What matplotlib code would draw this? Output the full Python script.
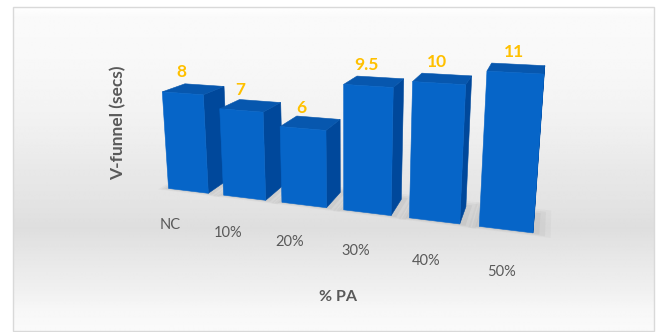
import numpy as np
import matplotlib
matplotlib.use("Agg")
import matplotlib.pyplot as plt
from matplotlib.patches import Polygon, Rectangle

# ---- data ----
categories = ['NC', '10%', '20%', '30%', '40%', '50%']
values = [8, 7, 6, 9.5, 10, 11]
y_title = 'V-funnel (secs)'
x_title = '% PA'

# ---- faux 3D camera (layout) ----
W, H = 659, 332
F = 650.0
PP = np.array([346.0, 102.0])
alpha = np.radians(17.5)
beta = np.radians(13.0)
EX = np.array([np.cos(alpha), np.sin(alpha) * np.sin(beta), -np.sin(alpha) * np.cos(beta)])
EY = np.array([0.0, -np.cos(beta), -np.sin(beta)])
EZ = np.array([np.sin(alpha), -np.cos(alpha) * np.sin(beta), np.cos(alpha) * np.cos(beta)])
T0 = np.array([-2.73, 1.33, 10.0])
GAP = 0.943      # slot width
BW = 0.686       # bar width
DZ = 0.634       # bar depth
KV = 0.190       # world height per value unit


def proj(x, y, z):
    c = T0 + x * EX + y * EY + z * EZ
    return PP[0] + F * c[0] / c[2], PP[1] + F * c[1] / c[2]


def poly(pts):
    return [proj(*p) for p in pts]


fig = plt.figure(figsize=(W / 100, H / 100), dpi=100)
ax = fig.add_axes([0, 0, 1, 1])
ax.set_xlim(0, W)
ax.set_ylim(H, 0)
ax.axis('off')

# background gradient inside frame
fx0, fx1, fy0, fy1 = 13, 654, 7, 331
stops_y = [7, 17, 60, 100, 140, 170, 200, 228, 240, 260, 290, 310, 331]
stops_g = [255, 250, 248, 244, 238, 232, 228, 222, 226, 232, 240, 247, 250]
ys = np.arange(fy0, fy1 + 1)
gv = np.interp(ys, stops_y, stops_g) / 255.0
img = np.repeat(gv[:, None], 2, axis=1)
ax.imshow(img, cmap='gray', vmin=0, vmax=1, extent=[fx0, fx1, fy1, fy0],
          aspect='auto', interpolation='bilinear', zorder=0)
ax.add_patch(Rectangle((fx0, fy0), fx1 - fx0, fy1 - fy0, fill=False,
                       edgecolor='#d9d9d9', lw=1.0, zorder=1))

plt.rcParams['font.family'] = ['Lato', 'DejaVu Sans']

front_c = '#0665c8'
side_c = '#00489b'
top_c = '#0757ae'

# soft floor shadows
for i, v in enumerate(values):
    x0 = i * GAP
    x1 = x0 + BW
    for m, a in [(0.22, 0.06), (0.15, 0.08), (0.08, 0.10)]:
        pts = poly([(x0 - m * 0.6, 0, -m * 0.4), (x1 + m, 0, -m * 0.4),
                    (x1 + m, 0, DZ + m), (x0 - m * 0.6, 0, DZ + m)])
        ax.add_patch(Polygon(pts, closed=True, facecolor='#7f7f7f',
                             edgecolor='none', alpha=a, zorder=2))

# bars (far -> near)
for i, v in enumerate(values):
    x0 = i * GAP
    x1 = x0 + BW
    h = KV * v
    z = 3 + i
    front = poly([(x0, 0, 0), (x1, 0, 0), (x1, h, 0), (x0, h, 0)])
    side = poly([(x1, 0, 0), (x1, 0, DZ), (x1, h, DZ), (x1, h, 0)])
    top = poly([(x0, h, 0), (x1, h, 0), (x1, h, DZ), (x0, h, DZ)])
    for pts, col in [(side, side_c), (top, top_c), (front, front_c)]:
        ax.add_patch(Polygon(pts, closed=True, facecolor=col, edgecolor=col,
                             lw=0.4, zorder=z))
    # value label
    lx, ly = proj((x0 + x1) / 2, h, 0)
    ax.annotate(f'{v:g}', (lx, ly), xytext=(-1, 15), textcoords='offset points',
                ha='center', va='center', color='#ffc000', fontsize=12.5,
                fontweight='bold', zorder=20)
    # category label
    cx, cy = proj((x0 + x1) / 2, -0.332, -0.54)
    ax.text(cx, cy, categories[i], ha='center', va='center', color='#595959',
            fontsize=10.5, zorder=20)

ax.text(118, 123, y_title, rotation=90, ha='center', va='center',
        color='#595959', fontsize=12.5, fontweight='bold', zorder=20)
ax.text(338, 297, x_title, ha='center', va='center', color='#595959',
        fontsize=11.5, fontweight='bold', zorder=20)

fig.savefig('out.png', dpi=100)
